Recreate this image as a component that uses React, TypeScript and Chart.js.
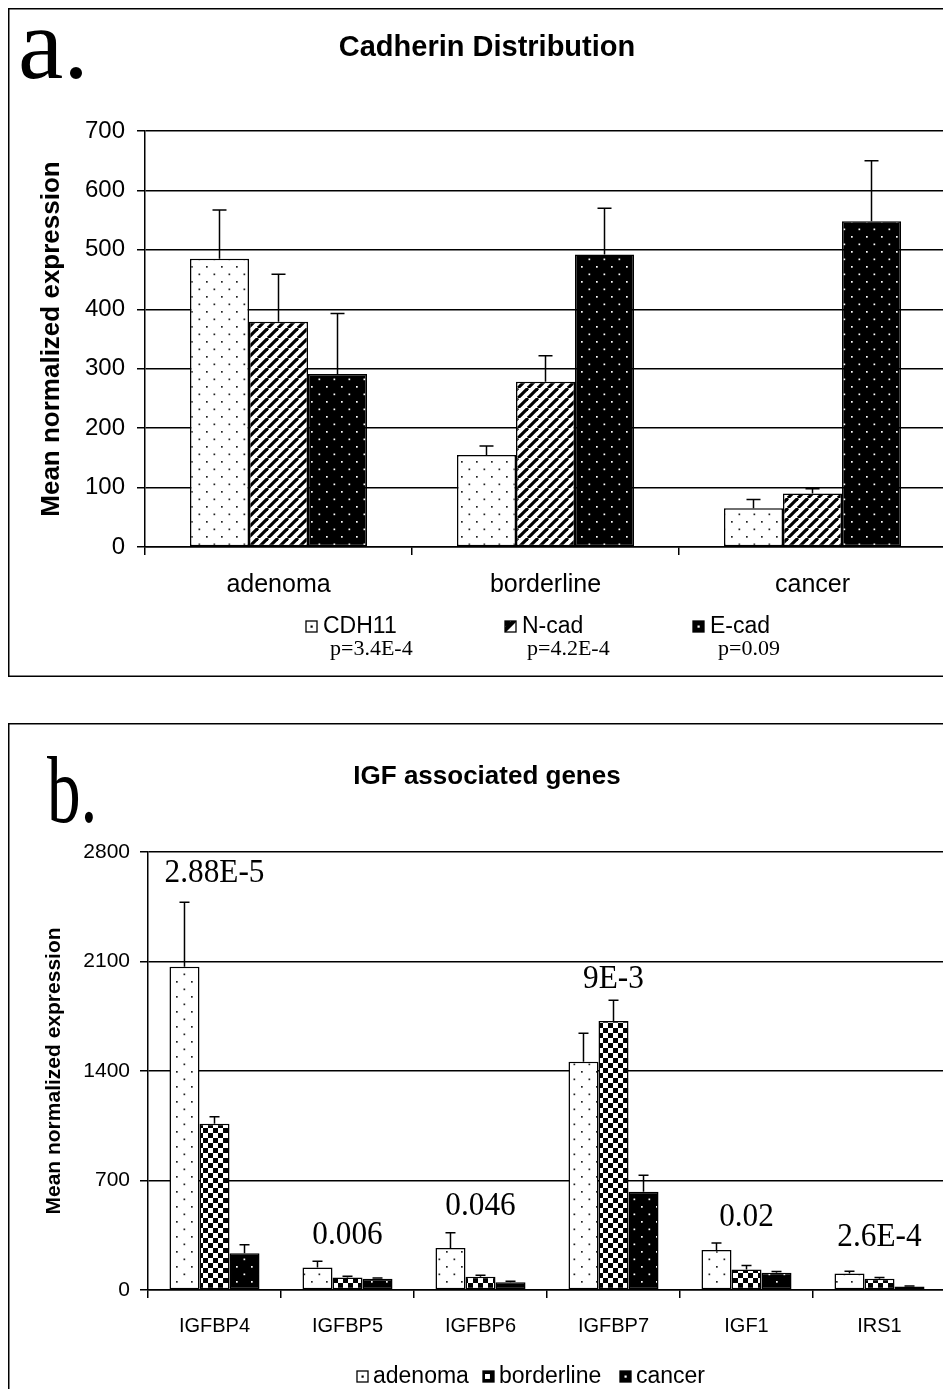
import React, { useEffect, useRef } from 'react';
import { Chart, registerables } from 'chart.js';

Chart.register(...registerables);

// ---------- Panel a: Cadherin Distribution ----------
const cadherinCategories = ['adenoma', 'borderline', 'cancer'];
const cadherinSeries = ['CDH11', 'N-cad', 'E-cad'];
const cadherinPValues = ['p=3.4E-4', 'p=4.2E-4', 'p=0.09'];
const cdh11Values = [485, 155, 65];
const cdh11Errors = [82, 15, 15];
const ncadValues = [379, 278, 90];
const ncadErrors = [80, 44, 8];
const ecadValues = [291, 492, 548];
const ecadErrors = [102, 78, 102];
const cadherinTickMax = 700;
const cadherinTickStep = 100;

// ---------- Panel b: IGF associated genes ----------
const igfCategories = ['IGFBP4', 'IGFBP5', 'IGFBP6', 'IGFBP7', 'IGF1', 'IRS1'];
const igfSeries = ['adenoma', 'borderline', 'cancer'];
const adenomaValues = [2067, 144, 268, 1459, 255, 105];
const adenomaErrors = [412, 39, 98, 183, 46, 15];
const borderlineValues = [1062, 80, 85, 1720, 131, 72];
const borderlineErrors = [46, 8, 10, 133, 26, 8];
const cancerValues = [235, 72, 50, 628, 111, 22];
const cancerErrors = [55, 4, 6, 105, 7, 3];
const igfPValues = ['2.88E-5', '0.006', '0.046', '9E-3', '0.02', '2.6E-4'];
const igfPLabelY = [2663, 353, 536, 1989, 464, 340];
const igfTickMax = 2800;
const igfTickStep = 700;

const SANS = '"Liberation Sans", Arial, sans-serif';
const SERIF = '"Liberation Serif", "Times New Roman", serif';

type Kind = 'dots' | 'blackdots' | 'diag' | 'checker';

function makePattern(kind: Kind): CanvasPattern {
  const c = document.createElement('canvas');
  const ctx = c.getContext('2d')!;
  if (kind === 'dots' || kind === 'blackdots') {
    const s = 15;
    c.width = s;
    c.height = s;
    ctx.fillStyle = kind === 'dots' ? '#fff' : '#000';
    ctx.fillRect(0, 0, s, s);
    ctx.fillStyle = kind === 'dots' ? '#222' : '#fff';
    ctx.fillRect(3, 3, 1.7, 1.7);
    ctx.fillRect(10.5, 10.5, 1.7, 1.7);
  } else if (kind === 'diag') {
    const s = 10;
    c.width = s;
    c.height = s;
    ctx.fillStyle = '#fff';
    ctx.fillRect(0, 0, s, s);
    ctx.strokeStyle = '#000';
    ctx.lineWidth = 3.2;
    for (const x0 of [-s, 0, s]) {
      ctx.beginPath();
      ctx.moveTo(x0, s);
      ctx.lineTo(x0 + s, 0);
      ctx.stroke();
    }
  } else {
    const q = 5;
    c.width = q * 2;
    c.height = q * 2;
    ctx.fillStyle = '#fff';
    ctx.fillRect(0, 0, q * 2, q * 2);
    ctx.fillStyle = '#000';
    ctx.fillRect(0, 0, q, q);
    ctx.fillRect(q, q, q, q);
  }
  return ctx.createPattern(c, 'repeat')!;
}

function drawIcon(ctx: CanvasRenderingContext2D, x: number, y: number, size: number, kind: Kind) {
  ctx.save();
  if (kind === 'dots' || kind === 'blackdots') {
    ctx.fillStyle = kind === 'dots' ? '#fff' : '#000';
    ctx.fillRect(x, y, size, size);
    ctx.fillStyle = kind === 'dots' ? '#000' : '#fff';
    ctx.fillRect(x + size / 2 - 1, y + size / 2 - 1, 2.2, 2.2);
  } else {
    ctx.beginPath();
    ctx.rect(x, y, size, size);
    ctx.clip();
    ctx.fillStyle = '#fff';
    ctx.fillRect(x, y, size, size);
    if (kind === 'diag') {
      ctx.fillStyle = '#000';
      ctx.beginPath();
      ctx.moveTo(x, y + size * 0.55);
      ctx.lineTo(x + size * 0.55, y);
      ctx.lineTo(x + size, y);
      ctx.lineTo(x + size, y + size * 0.1);
      ctx.lineTo(x + size * 0.1, y + size);
      ctx.lineTo(x, y + size);
      ctx.closePath();
      ctx.fill();
      ctx.fillRect(x, y, size * 0.45, size * 0.45);
    } else {
      ctx.fillStyle = '#000';
      ctx.fillRect(x, y, size, size);
      ctx.fillStyle = '#fff';
      ctx.fillRect(x + 2, y + 3, size * 0.45, size * 0.45);
    }
  }
  ctx.restore();
  ctx.save();
  ctx.strokeStyle = '#000';
  ctx.lineWidth = 1.3;
  ctx.strokeRect(x, y, size, size);
  ctx.restore();
}

function stretchText(
  ctx: CanvasRenderingContext2D,
  text: string,
  x: number,
  y: number,
  font: string,
  sx: number,
  align: CanvasTextAlign = 'left',
  baseline: CanvasTextBaseline = 'middle'
) {
  ctx.save();
  ctx.font = font;
  ctx.fillStyle = '#000';
  ctx.textAlign = align;
  ctx.textBaseline = baseline;
  ctx.translate(x, y);
  ctx.scale(sx, 1);
  ctx.fillText(text, 0, 0);
  ctx.restore();
}

const errorBarPlugin = (capHalf: number) => ({
  id: 'errorBars',
  afterDatasetsDraw(chart: any) {
    const ctx = chart.ctx as CanvasRenderingContext2D;
    const yScale = chart.scales.y;
    ctx.save();
    ctx.strokeStyle = '#000';
    ctx.lineWidth = 1.5;
    chart.data.datasets.forEach((ds: any, i: number) => {
      const meta = chart.getDatasetMeta(i);
      meta.data.forEach((bar: any, j: number) => {
        const v = ds.data[j];
        const e = ds.errors[j];
        const yTop = yScale.getPixelForValue(v);
        const yErr = yScale.getPixelForValue(v + e);
        ctx.beginPath();
        ctx.moveTo(bar.x, yTop);
        ctx.lineTo(bar.x, yErr);
        ctx.moveTo(bar.x - capHalf, yErr);
        ctx.lineTo(bar.x + capHalf, yErr);
        ctx.stroke();
      });
    });
    ctx.restore();
  },
});

const frameRightPlugin = {
  id: 'frameRight',
  afterDraw(chart: any) {
    const { ctx, chartArea } = chart;
    ctx.save();
    ctx.strokeStyle = '#000';
    ctx.lineWidth = 1.5;
    ctx.beginPath();
    ctx.moveTo(chartArea.right, chartArea.top);
    ctx.lineTo(chartArea.right, chartArea.bottom);
    ctx.stroke();
    ctx.restore();
  },
};

function drawBox(chart: any) {
  const ctx = chart.ctx as CanvasRenderingContext2D;
  ctx.save();
  ctx.strokeStyle = '#000';
  ctx.lineWidth = 1.5;
  ctx.strokeRect(0.75, 0.75, chart.width + 10, chart.height - 1.5);
  ctx.restore();
}

function commonScales(max: number, step: number, yWidth: number, xHeight: number, o: any) {
  return {
    x: {
      offset: true,
      grid: {
        display: true,
        offset: true,
        drawOnChartArea: false,
        drawTicks: true,
        tickLength: 8,
        color: '#000',
        lineWidth: 1.5,
      },
      border: { display: true, color: '#000', width: 1.5 },
      ticks: {
        color: '#000',
        font: { family: SANS, size: o.xFont },
        padding: o.xPad,
        maxRotation: 0,
        autoSkip: false,
      },
      afterFit: (s: any) => {
        s.height = xHeight;
      },
    },
    y: {
      min: 0,
      max,
      grid: { color: '#000', lineWidth: 1.5, tickLength: 8, drawTicks: true },
      border: { display: true, color: '#000', width: 1.5 },
      ticks: {
        stepSize: step,
        color: '#000',
        font: { family: SANS, size: o.yFont },
        padding: o.yPad,
        callback: (v: any) => String(v),
      },
      title: {
        display: true,
        text: 'Mean normalized expression',
        color: '#000',
        font: { family: SANS, size: o.titleFont, weight: 'bold' },
        padding: { top: o.titlePad, bottom: 0 },
      },
      afterFit: (s: any) => {
        s.width = yWidth;
      },
    },
  };
}

export default function App() {
  const refA = useRef<HTMLCanvasElement>(null);
  const refB = useRef<HTMLCanvasElement>(null);

  useEffect(() => {
    const pDots = makePattern('dots');
    const pDiag = makePattern('diag');
    const pBlack = makePattern('blackdots');
    const pCheck = makePattern('checker');

    const decorA = {
      id: 'decorA',
      afterDraw(chart: any) {
        const ctx = chart.ctx as CanvasRenderingContext2D;
        drawBox(chart);
        stretchText(ctx, 'a.', 10, 70, `102px ${SERIF}`, 1.0, 'left', 'alphabetic');
        stretchText(ctx, 'Cadherin Distribution', 479, 40, `bold 29px ${SANS}`, 1, 'center');
        const boxX = [298, 497, 685];
        const kinds: Kind[] = ['dots', 'diag', 'blackdots'];
        const pX = [322, 519, 710];
        cadherinSeries.forEach((name, i) => {
          drawIcon(ctx, boxX[i], 613, 11, kinds[i]);
          stretchText(ctx, name, boxX[i] + 17, 619, `23px ${SANS}`, 1);
          stretchText(ctx, cadherinPValues[i], pX[i], 641, `22px ${SERIF}`, 1);
        });
      },
    };

    const decorB = {
      id: 'decorB',
      afterDraw(chart: any) {
        const ctx = chart.ctx as CanvasRenderingContext2D;
        drawBox(chart);
        stretchText(ctx, 'b.', 39, 99, `96px ${SERIF}`, 0.7, 'left', 'alphabetic');
        stretchText(ctx, 'IGF associated genes', 479, 54, `bold 26px ${SANS}`, 1, 'center');
        const xs = chart.scales.x;
        const ys = chart.scales.y;
        igfPValues.forEach((t, i) => {
          stretchText(ctx, t, xs.getPixelForValue(i), ys.getPixelForValue(igfPLabelY[i]), `34px ${SERIF}`, 0.92, 'center');
        });
        const boxX = [349, 475, 612];
        const kinds: Kind[] = ['dots', 'checker', 'blackdots'];
        igfSeries.forEach((name, i) => {
          drawIcon(ctx, boxX[i], 648, 11, kinds[i]);
          stretchText(ctx, name, boxX[i] + 16, 654, `23px ${SANS}`, 1);
        });
      },
    };

    const chartA = new Chart(refA.current!, {
      type: 'bar',
      data: {
        labels: cadherinCategories,
        datasets: [
          { label: cadherinSeries[0], data: cdh11Values, errors: cdh11Errors, backgroundColor: pDots },
          { label: cadherinSeries[1], data: ncadValues, errors: ncadErrors, backgroundColor: pDiag },
          { label: cadherinSeries[2], data: ecadValues, errors: ecadErrors, backgroundColor: pBlack },
        ].map((d: any) => ({
          ...d,
          borderColor: '#000',
          borderWidth: 1.5,
          borderSkipped: false,
          barPercentage: 1,
          categoryPercentage: 0.663,
        })),
      },
      options: {
        responsive: false,
        animation: false,
        layout: { padding: { top: 123, right: 5, left: 0, bottom: 0 } },
        plugins: { legend: { display: false }, tooltip: { enabled: false }, title: { display: false } },
        scales: commonScales(cadherinTickMax, cadherinTickStep, 137, 130, {
          xFont: 25,
          xPad: 15,
          yFont: 24,
          yPad: 12,
          titleFont: 26,
          titlePad: 28,
        }) as any,
      },
      plugins: [errorBarPlugin(7), frameRightPlugin, decorA],
    } as any);

    const chartB = new Chart(refB.current!, {
      type: 'bar',
      data: {
        labels: igfCategories,
        datasets: [
          { label: igfSeries[0], data: adenomaValues, errors: adenomaErrors, backgroundColor: pDots },
          { label: igfSeries[1], data: borderlineValues, errors: borderlineErrors, backgroundColor: pCheck },
          { label: igfSeries[2], data: cancerValues, errors: cancerErrors, backgroundColor: pBlack },
        ].map((d: any) => ({
          ...d,
          borderColor: '#000',
          borderWidth: 1.5,
          borderSkipped: false,
          barPercentage: 1,
          categoryPercentage: 0.677,
        })),
      },
      options: {
        responsive: false,
        animation: false,
        layout: { padding: { top: 129, right: 5, left: 0, bottom: 0 } },
        plugins: { legend: { display: false }, tooltip: { enabled: false }, title: { display: false } },
        scales: commonScales(igfTickMax, igfTickStep, 140, 123, {
          xFont: 20,
          xPad: 16,
          yFont: 21,
          yPad: 10,
          titleFont: 21,
          titlePad: 34,
        }) as any,
      },
      plugins: [errorBarPlugin(5), frameRightPlugin, decorB],
    } as any);

    return () => {
      chartA.destroy();
      chartB.destroy();
    };
  }, []);

  return (
    <div style={{ width: 943, height: 1381, overflow: 'hidden', background: '#fff' }}>
      <canvas ref={refA} width={943} height={669} style={{ display: 'block', width: 943, height: 669 }} />
      <canvas
        ref={refB}
        width={943}
        height={690}
        style={{ display: 'block', width: 943, height: 690, marginTop: 46 }}
      />
    </div>
  );
}
